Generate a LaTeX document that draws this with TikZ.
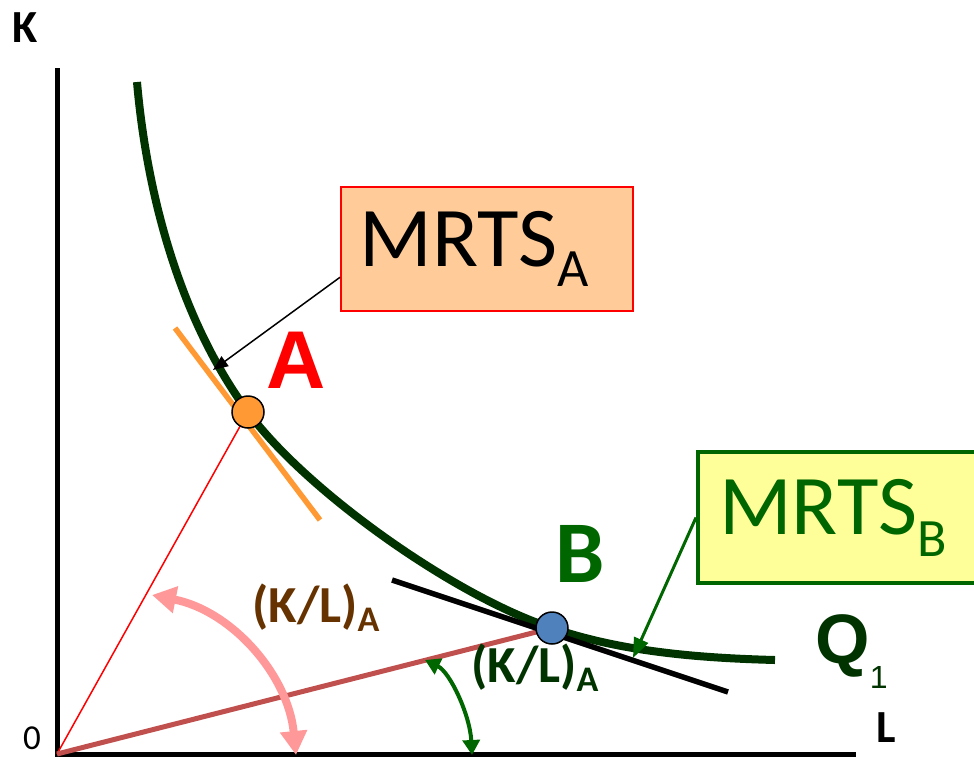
\documentclass[tikz,border=0pt]{standalone}
\usepackage{fontspec}
\setmainfont{Carlito}
\newfontfamily\arialfont{Liberation Sans}
\definecolor{isogreen}{RGB}{0, 51, 0}
\definecolor{labgreen}{RGB}{0, 102, 0}
\definecolor{ptorange}{RGB}{255, 153, 51}
\definecolor{ptblue}{RGB}{79, 129, 189}
\definecolor{raybrown}{RGB}{192, 80, 77}
\definecolor{angpink}{RGB}{255, 153, 153}
\definecolor{klbrown}{RGB}{102, 51, 0}
\definecolor{boxpeach}{RGB}{255, 204, 153}
\definecolor{boxyellow}{RGB}{255, 255, 153}
\usetikzlibrary{arrows.meta, positioning}

\begin{document}
\begin{tikzpicture}[x=1pt, y=-1pt,
  axis/.style={line width=5pt},
  isoquant/.style={isogreen, line width=8pt},
  tangent/.style={line width=5.5pt},
  point/.style={circle, draw=black, line width=1.5pt, minimum size=32pt, inner sep=0pt},
  mrtsbox/.style={anchor=north west, text width=254pt, align=left, inner ysep=0pt,
    font=\fontsize{85}{85}\selectfont},
  klabel/.style={anchor=base west, font=\fontsize{52}{52}\selectfont\bfseries}]
  \clip (0,0) rectangle (974,756);

  % axes
  \coordinate (O) at (57,754);
  \coordinate (ytop) at (57,68);
  \coordinate (xend) at (856,754);
  \draw[axis] (ytop) -- (57,756);
  \draw[axis] (55,754) -- (xend);
  \node[anchor=base, font=\fontsize{46}{46}\selectfont\bfseries] (klab) at (25,42) {K};
  \node[anchor=base, font=\fontsize{46}{46}\selectfont\bfseries] (llab) at (886,742) {L};
  \node[anchor=base, inner sep=0pt, font=\fontsize{35}{35}\selectfont] (olab) at (32,749) {0};

  % isoquant
  \coordinate (q0) at (137,82);
  \coordinate (q1) at (775,660);
  \coordinate (cA) at (248,412);
  \coordinate (cB) at (552,628);
  \draw[isoquant] (q0) .. controls (147,197) and (181,321) .. (cA)
    .. controls (306,491) and (456,597) .. (cB)
    .. controls (622,652) and (700,658) .. (q1);

  % rays from the origin
  \draw[red, line width=1.5pt] (O) -- (cA);
  \draw[raybrown, line width=5pt] (O) -- (cB);

  % tangents
  \coordinate (tA1) at (175,328);
  \coordinate (tA2) at (320,520);
  \coordinate (tB1) at (392,580);
  \coordinate (tB2) at (728,692);
  \draw[tangent, ptorange] (tA1) -- (tA2);
  \draw[tangent, black] (tB1) -- (tB2);

  \node[point, fill=ptorange] (ptA) at (cA) {};
  \node[point, fill=ptblue] (ptB) at (cB) {};

  \node[anchor=base, red, font=\fontsize{82}{82}\selectfont\arialfont\bfseries] (labA) at (296,388) {A};
  \node[anchor=base, labgreen, font=\fontsize{88}{88}\selectfont\bfseries] (labB) at (580,582) {B};
  \node[anchor=base west, isogreen, font=\fontsize{70}{70}\selectfont\arialfont\bfseries] (labQ) at (812,663)
    {Q\raisebox{-25pt}{\fontsize{32}{32}\selectfont\mdseries 1}};

  % angle arrows
  \coordinate (pk1) at (152,595);
  \coordinate (pk2) at (296,755);
  \draw[angpink, line width=8pt, {Triangle[length=24pt, width=26pt]}-{Triangle[length=24pt, width=26pt]}]
    (pk1) .. controls (232,611) and (288,675) .. (pk2);
  \coordinate (gr1) at (425,660);
  \coordinate (gr2) at (472,755);
  \draw[labgreen, line width=4pt, {Triangle[length=15pt, width=17pt]}-{Triangle[length=15pt, width=17pt]}]
    (gr1) .. controls (450,672) and (470,715) .. (gr2);

  \node[klabel, klbrown] (klA) at (249,622) {(K/L)\raisebox{-9pt}{\fontsize{36}{36}\selectfont A}};
  \node[klabel, isogreen] (klB) at (468,682) {(K/L)\raisebox{-9pt}{\fontsize{36}{36}\selectfont A}};

  % MRTS boxes
  \node[mrtsbox, draw=red, line width=1.5pt, fill=boxpeach, minimum height=124pt, inner xsep=19pt] (mrtsA) at (340,186)
    {MRTS\raisebox{-20pt}{\fontsize{54}{54}\selectfont A}};
  \node[mrtsbox, draw=labgreen, line width=4pt, fill=boxyellow, text=labgreen, minimum height=131pt, inner xsep=21pt] (mrtsB) at (696,450)
    {MRTS\raisebox{-22pt}{\fontsize{54}{54}\selectfont B}};

  \coordinate (tipA) at (213,370);
  \coordinate (tipB) at (633,658);
  \draw[black, line width=1.5pt, -{Triangle[length=15pt, width=12pt]}] (mrtsA.191) -- (tipA);
  \draw[labgreen, line width=3pt, -{Triangle[length=20pt, width=15pt]}] (mrtsB.west) -- (tipB);
\end{tikzpicture}
\end{document}
